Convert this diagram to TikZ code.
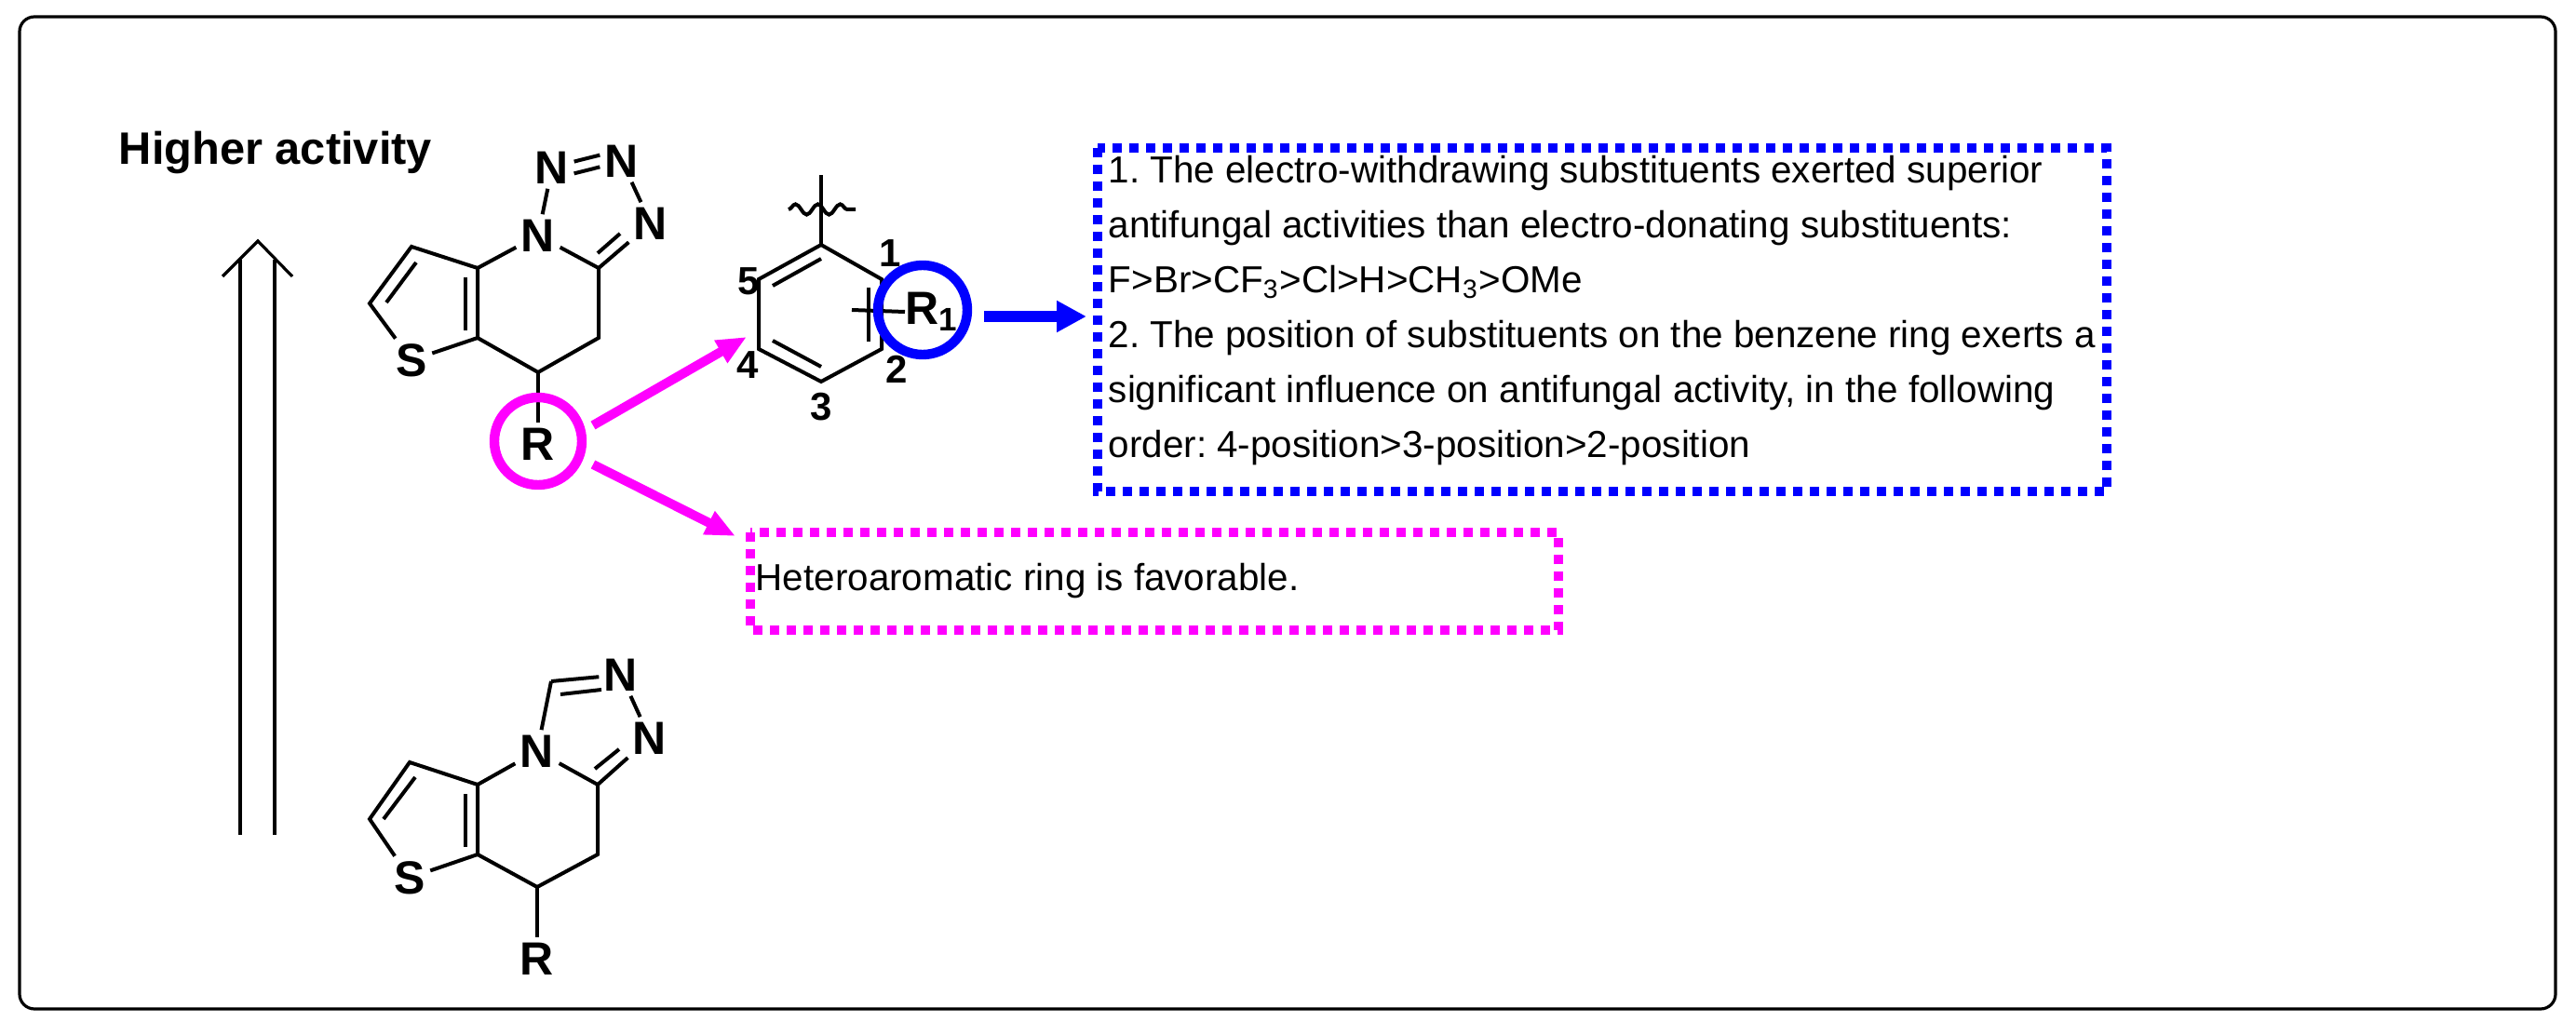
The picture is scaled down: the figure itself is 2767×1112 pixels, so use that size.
\documentclass[tikz,border=0pt]{standalone}
\usepackage{fontspec}
\setmainfont{Liberation Sans}
\usetikzlibrary{calc,decorations.pathmorphing,arrows.meta}
\definecolor{mag}{RGB}{255,0,255}
\definecolor{blu}{RGB}{0,0,255}
\frenchspacing
\begin{document}
\begin{tikzpicture}[x=0.25pt,y=-0.25pt,
  bond/.style={line width=1pt},
  atom/.style={font=\fontsize{12.5}{14}\selectfont\bfseries,inner sep=1.2pt},
  num/.style={font=\fontsize{10.5}{12}\selectfont\bfseries,inner sep=0pt},
  body/.style={font=\fontsize{10.1}{14.75}\selectfont,align=left,inner sep=0pt,anchor=north west},
  dotbox/.style={line width=2.5pt,dash pattern=on 2.6pt off 1.9pt}]
\useasboundingbox (0,0) rectangle (2767,1112);
\draw[line width=0.8pt,rounded corners=4pt] (21,18) rectangle (2745,1084);

% higher activity
\node[font=\fontsize{12.2}{14}\selectfont\bfseries,anchor=base west,inner sep=0] (ha) at (127,177) {Higher activity};
\coordinate (tip) at (277,259);
\coordinate (hl) at (239,297); \coordinate (hr) at (314,297);
\draw[line width=0.8pt] (hl) -- (tip) -- (hr);
\draw[line width=0.8pt] (258,279) -- (258,897) (295,279) -- (295,897);

% top molecule
\coordinate (a3) at (442,265); \coordinate (a2) at (397,326);
\node[atom] (aS) at (442,387) {S};
\coordinate (a7a) at (513,363); \coordinate (a3a) at (513,288);
\node[atom] (aN4) at (578,253) {N};
\coordinate (aC) at (643,288); \coordinate (aCH2) at (643,363);
\coordinate (aCH) at (578,400);
\node[atom] (aR) at (578,477) {R};
\node[atom] (aN1) at (593,180) {N};
\node[atom] (aN2) at (668,173) {N};
\node[atom] (aN3) at (699,240) {N};
\draw[bond] (a3a) -- (a3) -- (a2) -- (aS);
\draw[bond] (aS) -- (a7a) -- (a3a);
\draw[bond] (a3a) -- (aN4);
\draw[bond] (aN4) -- (aC) -- (aCH2) -- (aCH) -- (a7a);
\draw[bond] (aCH) -- (aR);
\draw[bond] (447,282) -- (415,325);
\draw[bond] (500,298) -- (500,355);
\draw[bond] (aN4) -- (aN1);
\draw[bond] (aN2) -- (aN3);
\draw[bond] (aN3) -- (aC);
\draw[bond] (642,272) -- (666,251);
\draw[bond] ([yshift=1.6pt]aN1.east) -- ([yshift=1.6pt]aN2.west);
\draw[bond] ([yshift=-1.6pt]aN1.east) -- ([yshift=-1.6pt]aN2.west);
\node[draw=mag,circle,line width=2.6pt,minimum size=23.5pt,inner sep=0] (rc) at (578,474) {};

% bottom molecule
\coordinate (b3) at (440,819); \coordinate (b2) at (397,880);
\node[atom] (bS) at (440,943) {S};
\coordinate (b7a) at (513,918); \coordinate (b3a) at (513,843);
\node[atom] (bN4) at (577,807) {N};
\coordinate (bC) at (642,843); \coordinate (bCH2) at (642,918);
\coordinate (bCH) at (577,953);
\node[atom] (bR) at (577,1030) {R};
\coordinate (bCHt) at (592,732);
\node[atom] (bN1) at (667,725) {N};
\node[atom] (bN2) at (698,793) {N};
\draw[bond] (b3a) -- (b3) -- (b2) -- (bS);
\draw[bond] (bS) -- (b7a) -- (b3a);
\draw[bond] (b3a) -- (bN4);
\draw[bond] (bN4) -- (bC) -- (bCH2) -- (bCH) -- (b7a);
\draw[bond] (bCH) -- (bR);
\draw[bond] (446,835) -- (412,880);
\draw[bond] (500,853) -- (500,910);
\draw[bond] (bN4) -- (bCHt);
\draw[bond] (bCHt) -- (bN1);
\draw[bond] (bN1) -- (bN2);
\draw[bond] (bN2) -- (bC);
\draw[bond] (639,826) -- (665,805);
\draw[bond] (602,746) -- (646,741);

% benzene
\coordinate (p1) at (882,263); \coordinate (p2) at (947,300); \coordinate (p3) at (947,375);
\coordinate (p4) at (882,410); \coordinate (p5) at (815,375); \coordinate (p6) at (815,300);
\coordinate (ptop) at (882,188);
\draw[bond] (p1) -- (p2) -- (p3) -- (p4) -- (p5) -- (p6) -- cycle;
\draw[bond] (p1) -- (ptop);
\draw[bond] (830,307) -- (882,278);
\draw[bond] (830,366) -- (882,394);
\draw[bond,decorate,decoration={snake,segment length=6pt,amplitude=1.4pt}] (847,225) -- (919,225);
\node[num] (l1) at (956,272) {1};
\node[num] (l2) at (963,397) {2};
\node[num] (l3) at (882,437) {3};
\node[num] (l4) at (803,392) {4};
\node[num] (l5) at (804,302) {5};
\node[atom,anchor=west,inner sep=0] (r1) at (972,335) {R\textsubscript{1}};
\draw[bond] (915,333) -- (r1.west);
\draw[bond] (933,309) -- (933,367);
\node[draw=blu,circle,line width=2.6pt,minimum size=24pt,inner sep=0] (bc) at (991,333) {};

% blue box
\node[body,text=black] (tb) at (1190,166) {1. The electro-withdrawing substituents exerted superior\\
antifungal activities than electro-donating substituents:\\
F>Br>CF\textsubscript{3}>Cl>H>CH\textsubscript{3}>OMe\\
2. The position of substituents on the benzene ring exerts a\\
significant influence on antifungal activity, in the following\\
order: 4-position>3-position>2-position};
\draw[dotbox,blu] (1179,159) rectangle (2263,528);
\coordinate (bbox) at (1167,340);
\draw[blu,line width=3pt,-{Triangle[length=8pt,width=8pt]}] (1057,340) -- (bbox);

% magenta box
\node[body,anchor=west] (hx) at (811,624) {Heteroaromatic ring is favorable.};
\draw[dotbox,mag] (806,572) rectangle (1674,677);
\coordinate (mt1) at (802,362); \coordinate (mt2) at (790,576);
\draw[mag,line width=2.5pt,-{Triangle[length=8pt,width=6.5pt]}] (637,457) -- (mt1);
\draw[mag,line width=2.5pt,-{Triangle[length=8pt,width=6.5pt]}] (637,499) -- (mt2);
\end{tikzpicture}
\end{document}
